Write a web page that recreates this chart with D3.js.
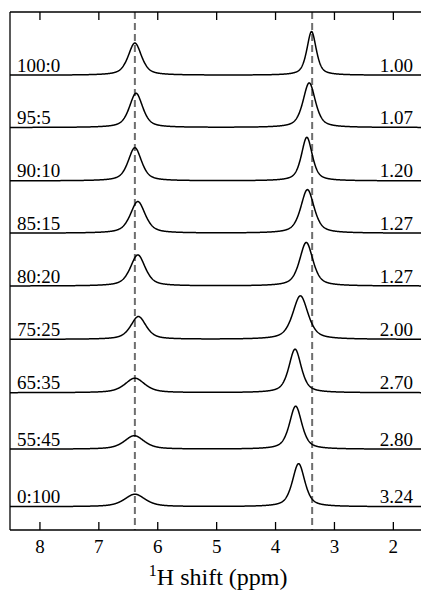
<!DOCTYPE html>
<html><head><meta charset="utf-8">
<script src="https://cdn.jsdelivr.net/npm/d3@7"></script>
<style>
html,body{margin:0;padding:0;background:#fff;}
</style></head>
<body><svg id="c" width="421" height="591"></svg>
<script>
// ---- data ----
const ratioLabels = ["100:0","95:5","90:10","85:15","80:20","75:25","65:35","55:45","0:100"];
const valueLabels = ["1.00","1.07","1.20","1.27","1.27","2.00","2.70","2.80","3.24"];
const offsets     = [8.78, 7.77, 6.74, 5.73, 4.71, 3.68, 2.65, 1.56, 0.45];
const leftPos     = [6.38, 6.36, 6.38, 6.33, 6.33, 6.32, 6.38, 6.39, 6.38];
const leftHeight  = [0.62, 0.66, 0.64, 0.61, 0.60, 0.44, 0.28, 0.26, 0.24];
const leftWidth   = [0.27, 0.27, 0.27, 0.30, 0.30, 0.31, 0.40, 0.40, 0.42];
const rightPos    = [3.38, 3.42, 3.46, 3.45, 3.47, 3.57, 3.66, 3.65, 3.60];
const rightHeight = [0.84, 0.86, 0.84, 0.84, 0.84, 0.84, 0.84, 0.83, 0.83];
const rightWidth  = [0.19, 0.25, 0.22, 0.27, 0.27, 0.31, 0.25, 0.25, 0.25];
const refLines    = [6.38, 3.37];
const xTicks      = [8, 7, 6, 5, 4, 3, 2];
const xDomain     = [8.5, 1.5];

const FONT = "'Liberation Serif', serif";
const FS = 19;
const svg = d3.select("#c");
const L = 10, R = 422.3, T = 12, B = 530;
const x = d3.scaleLinear().domain(xDomain).range([L, R]);
const y = d3.scaleLinear().domain([0, 10]).range([B, T]);

// pseudo-Voigt line shape
function peak(p, c, h, w) {
  const d = (p - c) / (w / 2);
  const lor = 1 / (1 + d * d);
  const gau = Math.exp(-Math.LN2 * d * d);
  return h * (0.6 * lor + 0.4 * gau);
}
const grid = d3.range(xDomain[1], xDomain[0] + 1e-9, 0.005);

// dashed reference lines
svg.selectAll("line.ref").data(refLines).join("line")
  .attr("x1", d => x(d)).attr("x2", d => x(d))
  .attr("y1", T).attr("y2", B)
  .attr("stroke", "#6e6e6e").attr("stroke-width", 2)
  .attr("stroke-dasharray", "7,4");

// spectra
const line = d3.line().x(d => x(d[0])).y(d => y(d[1]));
ratioLabels.forEach((lab, i) => {
  const pts = grid.map(p => [p, offsets[i] + peak(p, leftPos[i], leftHeight[i], leftWidth[i]) + peak(p, rightPos[i], rightHeight[i], rightWidth[i])]);
  svg.append("path").attr("d", line(pts)).attr("fill", "none")
    .attr("stroke", "#000").attr("stroke-width", 1.5);
  svg.append("text").attr("x", 17).attr("y", y(offsets[i]) - 3.5)
    .attr("font-family", FONT).attr("font-size", FS).text(lab);
  svg.append("text").attr("x", 413).attr("y", y(offsets[i]) - 3.5)
    .attr("font-family", FONT).attr("font-size", FS).attr("text-anchor", "end").text(valueLabels[i]);
});

// frame
const frame = svg.append("g").attr("stroke", "#000").attr("stroke-width", 1.3);
frame.append("line").attr("x1", L).attr("x2", 421).attr("y1", T).attr("y2", T);
frame.append("line").attr("x1", L).attr("x2", 421).attr("y1", B).attr("y2", B);
frame.append("line").attr("x1", L).attr("x2", L).attr("y1", T).attr("y2", B);

// bottom axis (inward ticks) and top ticks
const axB = svg.append("g").attr("transform", `translate(0,${B})`)
  .call(d3.axisBottom(x).tickValues(xTicks).tickSize(-8).tickFormat(d3.format("d")).tickPadding(12));
axB.attr("font-family", FONT).attr("font-size", FS);
axB.select(".domain").remove();
axB.selectAll(".tick line").attr("stroke", "#000").attr("stroke-width", 1.3);
axB.selectAll(".tick text").attr("font-size", FS).attr("font-family", FONT).attr("fill", "#000").attr("dy", 0).attr("y", 23);

const axT = svg.append("g").attr("transform", `translate(0,${T})`)
  .call(d3.axisTop(x).tickValues(xTicks).tickSize(-8).tickFormat(""));
axT.select(".domain").remove();
axT.selectAll(".tick line").attr("stroke", "#000").attr("stroke-width", 1.3);

// axis title
const title = svg.append("text").attr("x", (x(8.5) + x(1.5)) / 2 + 2).attr("y", 585)
  .attr("font-family", FONT).attr("text-anchor", "middle").attr("font-size", 24);
title.append("tspan").attr("font-size", 16).attr("dy", -9).text("1");
title.append("tspan").attr("dy", 9).text("H shift (ppm)");
</script></body></html>
